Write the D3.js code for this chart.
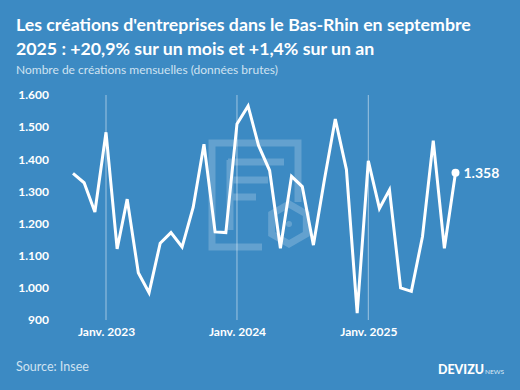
<!DOCTYPE html>
<html><head><meta charset="utf-8">
<script src="https://cdn.jsdelivr.net/npm/d3@7"></script>
<style>
html,body{margin:0;padding:0;background:#3c8ac3;}
svg{display:block;}
</style></head><body>
<svg id="c" width="520" height="390"></svg>
<script>
const months = ["2022-10","2022-11","2022-12","2023-01","2023-02","2023-03","2023-04","2023-05","2023-06","2023-07","2023-08","2023-09","2023-10","2023-11","2023-12","2024-01","2024-02","2024-03","2024-04","2024-05","2024-06","2024-07","2024-08","2024-09","2024-10","2024-11","2024-12","2025-01","2025-02","2025-03","2025-04","2025-05","2025-06","2025-07","2025-08","2025-09"];
const creations = [1356,1327,1236,1484,1121,1276,1047,985,1139,1172,1127,1251,1447,1174,1172,1510,1566,1443,1365,1123,1347,1315,1133,1339,1525,1368,921,1395,1247,1305,1000,989,1160,1458,1123,1358];
const yTicks = [900,1000,1100,1200,1300,1400,1500,1600];
const xTickDates = ["2023-01","2024-01","2025-01"];
const xTickLabels = ["Janv. 2023","Janv. 2024","Janv. 2025"];
const title1 = "Les créations d'entreprises dans le Bas-Rhin en septembre";
const title2 = "2025 : +20,9% sur un mois et +1,4% sur un an";
const subtitle = "Nombre de créations mensuelles (données brutes)";
const source = "Source: Insee";

const parse = d3.timeParse("%Y-%m");
const data = months.map((m,i)=>({date:parse(m), value:creations[i]}));
const svg = d3.select("#c");
const fmt = v => d3.format(",")(v).replace(/,/g,".");

function fit(sel, target, base){
  const w = sel.node().getComputedTextLength();
  sel.attr("font-size", (base*target/w).toFixed(2)+"px");
}

svg.append("rect").attr("width",520).attr("height",390).attr("fill","#3c8ac3");

const x = d3.scaleTime().domain([parse("2022-10"), parse("2025-09")]).range([73,455.5]);
const y = d3.scaleLinear().domain([900,1600]).range([320,95]);

// watermark
const wm = svg.append("g").attr("fill","none").attr("stroke","#ffffff").attr("stroke-opacity",0.2).attr("stroke-width",7);
wm.append("path").attr("d","M262,247 L212,247 L212,143 L298,143 L298,202");
wm.append("path").attr("d","M228,162 L284,162 M228,180 L268,180 M228,197 L256,197 M230,160 L230,230");
const hx=289, hy=224, hr=20;
wm.append("path").attr("d", d3.range(6).map((k,i)=>{const a=Math.PI/3*k+Math.PI/6;return (i?"L":"M")+(hx+hr*Math.cos(a))+","+(hy+hr*Math.sin(a));}).join("")+"Z");
wm.append("circle").attr("cx",hx).attr("cy",hy).attr("r",3).attr("fill","#ffffff").attr("fill-opacity",0.2).attr("stroke","none");

// gridlines
svg.append("g").selectAll("line").data(xTickDates).join("line")
  .attr("x1",d=>x(parse(d))).attr("x2",d=>x(parse(d)))
  .attr("y1",y(1600)).attr("y2",y(900))
  .attr("stroke","#ffffff").attr("stroke-opacity",0.5).attr("stroke-width",1);

// y axis
const yAxis = svg.append("g").attr("transform","translate(49,0)")
  .call(d3.axisLeft(y).tickValues(yTicks).tickFormat(fmt).tickSize(0).tickPadding(0));
yAxis.select(".domain").remove();
yAxis.selectAll("text").attr("fill","#ffffff").attr("font-family","Lato, sans-serif").attr("font-weight","700").attr("font-size","12px");

// x axis
const xAxis = svg.append("g").attr("transform","translate(0,327)")
  .call(d3.axisBottom(x).tickValues(xTickDates.map(parse)).tickFormat((d,i)=>xTickLabels[i]).tickSize(0).tickPadding(0));
xAxis.select(".domain").remove();
xAxis.selectAll("text").attr("fill","#ffffff").attr("font-family","Lato, sans-serif").attr("font-weight","700").attr("font-size","12px");

// line
svg.append("path").datum(data)
  .attr("d", d3.line().x(d=>x(d.date)).y(d=>y(d.value)))
  .attr("fill","none").attr("stroke","#ffffff").attr("stroke-width",3).attr("stroke-linejoin","miter");
const last = data[data.length-1];
svg.append("circle").attr("cx",x(last.date)).attr("cy",y(last.value)).attr("r",4).attr("fill","#ffffff");
svg.append("text").attr("x",x(last.date)+8).attr("y",y(last.value)+5)
  .attr("fill","#ffffff").attr("font-family","Lato, sans-serif").attr("font-weight","700").attr("font-size","14px")
  .text(fmt(last.value));

// titles
const t = svg.append("g").attr("fill","#ffffff").attr("font-family","Lato, sans-serif").attr("font-weight","700");
const t1 = t.append("text").attr("x",16).attr("y",31).attr("font-size","18px").text(title1);
fit(t1, 455, 18);
const fs = t1.attr("font-size");
t.append("text").attr("x",16).attr("y",55).attr("font-size",fs).text(title2);
const st = svg.append("text").attr("x",16).attr("y",74).attr("fill","#cfe2f1").attr("font-family","Lato, sans-serif").attr("font-size","12px").text(subtitle);
fit(st, 262, 12);
svg.append("text").attr("x",16).attr("y",371).attr("fill","#cfe2f1").attr("font-family","Lato, sans-serif").attr("font-size","12.5px").text(source);

// logo
const l1 = svg.append("text").attr("x",438).attr("y",374).attr("fill","#ffffff").attr("font-family","Lato, sans-serif").attr("font-weight","900").attr("font-size","14px").text("DEVIZU");
fit(l1, 46, 14);
const l2 = svg.append("text").attr("x",485).attr("y",374).attr("fill","#dbe9f5").attr("font-family","Lato, sans-serif").attr("font-size","7px").text("NEWS");
fit(l2, 19, 7);
</script>
</body></html>
